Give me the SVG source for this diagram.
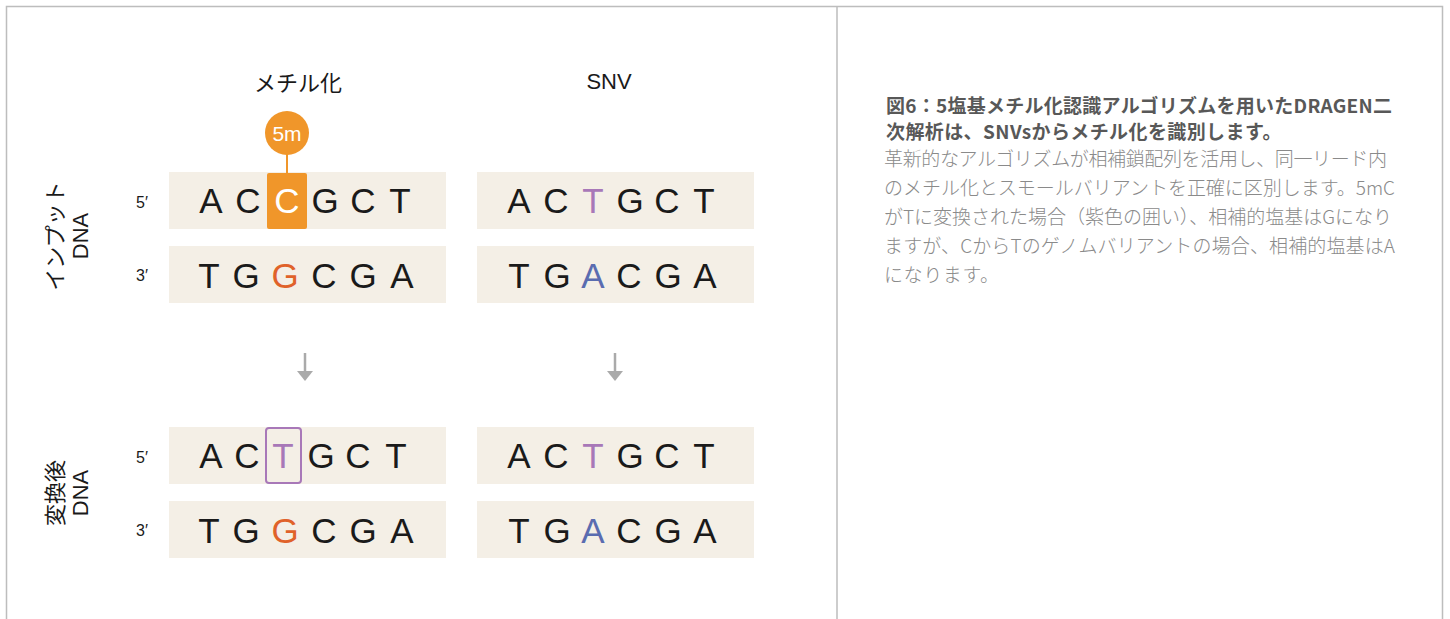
<svg xmlns="http://www.w3.org/2000/svg" width="1450" height="619" viewBox="0 0 1450 619">
<style>
.frame{fill:none;stroke:#bdbdbd;stroke-width:1.5}
.strand{fill:#f4efe6}
.b{font-family:"Liberation Sans",Arial,sans-serif;font-size:35px;fill:#1a1a1a;text-anchor:middle}
.end{font-family:"Liberation Sans",Arial,sans-serif;font-size:16px;fill:#1a1a1a;text-anchor:middle}
.hdr{font-family:"Liberation Sans","Noto Sans CJK JP",sans-serif;font-size:22px;fill:#1a1a1a;text-anchor:middle}
.side{font-family:"Liberation Sans","Noto Sans CJK JP",sans-serif;font-size:22px;fill:#1a1a1a;text-anchor:middle}
.og{fill:#e0622a}
.pu{fill:#a878b8}
.bl{fill:#5a6cb0}
.wh{fill:#ffffff}
.title{font-family:"Noto Sans CJK JP",sans-serif;font-size:19px;font-weight:600;fill:#585858}
.body{font-family:"Noto Sans CJK JP",sans-serif;font-size:19px;font-weight:300;fill:#8a8a8a}
.arr{stroke:#aaaaaa;stroke-width:2.5;fill:none}
</style>
<defs>
<marker id="ah" viewBox="0 0 10 16" refX="1" refY="8" markerWidth="10" markerHeight="16" markerUnits="userSpaceOnUse" orient="auto">
<path d="M0,0 L10,8 L0,16 Z" fill="#aaaaaa"/>
</marker>
</defs>
<g id="frame">
<path class="frame" d="M6.5,619 V6.5 H1442.5 V619"/>
<line class="frame" x1="837" y1="6.5" x2="837" y2="619"/>
</g>
<g id="headers">
<text class="hdr" x="298" y="91">メチル化</text>
<text class="hdr" x="609" y="89">SNV</text>
</g>
<g id="label-input">
<g transform="translate(66,236) rotate(-90)">
<text class="side" x="0" y="-3">インプット</text>
<text class="side" x="0" y="22">DNA</text>
</g>
</g>
<g id="label-converted">
<g transform="translate(66,493) rotate(-90)">
<text class="side" x="0" y="-3">変換後</text>
<text class="side" x="0" y="22">DNA</text>
</g>
</g>
<g id="ends">
<text class="end" x="142" y="208">5′</text>
<text class="end" x="142" y="281">3′</text>
<text class="end" x="142" y="463">5′</text>
<text class="end" x="142" y="536">3′</text>
</g>
<g id="meth-input-5">
<rect class="strand" x="169" y="172" width="277" height="57"/>
<rect x="267" y="173" width="40" height="56" rx="2" fill="#f0962a"/>
<line x1="287" y1="150" x2="287" y2="174" stroke="#f0962a" stroke-width="2"/>
<circle cx="287" cy="133" r="22" fill="#f0962a"/>
<text x="287" y="141" font-family="Liberation Sans,Arial,sans-serif" font-size="21" fill="#ffffff" text-anchor="middle">5m</text>
<text class="b" x="211" y="213">A</text>
<text class="b" x="248" y="213">C</text>
<text class="b wh" x="287" y="213">C</text>
<text class="b" x="325" y="213">G</text>
<text class="b" x="363" y="213">C</text>
<text class="b" x="400" y="213">T</text>
</g>
<g id="meth-input-3">
<rect class="strand" x="169" y="246" width="277" height="57"/>
<text class="b" x="209" y="288">T</text>
<text class="b" x="246" y="288">G</text>
<text class="b og" x="285" y="288">G</text>
<text class="b" x="324" y="288">C</text>
<text class="b" x="363" y="288">G</text>
<text class="b" x="402" y="288">A</text>
</g>
<g id="snv-input-5">
<rect class="strand" x="477" y="172" width="277" height="57"/>
<text class="b" x="519" y="213">A</text>
<text class="b" x="556" y="213">C</text>
<text class="b pu" x="593" y="213">T</text>
<text class="b" x="630" y="213">G</text>
<text class="b" x="667" y="213">C</text>
<text class="b" x="704" y="213">T</text>
</g>
<g id="snv-input-3">
<rect class="strand" x="477" y="246" width="277" height="57"/>
<text class="b" x="519" y="288">T</text>
<text class="b" x="557" y="288">G</text>
<text class="b bl" x="593" y="288">A</text>
<text class="b" x="629" y="288">C</text>
<text class="b" x="668" y="288">G</text>
<text class="b" x="705" y="288">A</text>
</g>
<g id="connectors">
<line class="arr" x1="305" y1="353" x2="305" y2="372" marker-end="url(#ah)"/>
<line class="arr" x1="615" y1="353" x2="615" y2="372" marker-end="url(#ah)"/>
</g>
<g id="meth-conv-5">
<rect class="strand" x="169" y="427" width="277" height="57"/>
<rect x="266" y="428" width="35" height="55" rx="3" fill="none" stroke="#a878b8" stroke-width="2"/>
<text class="b" x="211" y="468">A</text>
<text class="b" x="247" y="468">C</text>
<text class="b pu" x="283" y="468">T</text>
<text class="b" x="321" y="468">G</text>
<text class="b" x="358" y="468">C</text>
<text class="b" x="396" y="468">T</text>
</g>
<g id="meth-conv-3">
<rect class="strand" x="169" y="501" width="277" height="57"/>
<text class="b" x="209" y="543">T</text>
<text class="b" x="246" y="543">G</text>
<text class="b og" x="285" y="543">G</text>
<text class="b" x="324" y="543">C</text>
<text class="b" x="363" y="543">G</text>
<text class="b" x="402" y="543">A</text>
</g>
<g id="snv-conv-5">
<rect class="strand" x="477" y="427" width="277" height="57"/>
<text class="b" x="519" y="468">A</text>
<text class="b" x="556" y="468">C</text>
<text class="b pu" x="593" y="468">T</text>
<text class="b" x="630" y="468">G</text>
<text class="b" x="667" y="468">C</text>
<text class="b" x="704" y="468">T</text>
</g>
<g id="snv-conv-3">
<rect class="strand" x="477" y="501" width="277" height="57"/>
<text class="b" x="519" y="543">T</text>
<text class="b" x="557" y="543">G</text>
<text class="b bl" x="593" y="543">A</text>
<text class="b" x="629" y="543">C</text>
<text class="b" x="668" y="543">G</text>
<text class="b" x="705" y="543">A</text>
</g>
<g id="caption">
<text class="title" x="886" y="113" textLength="506" lengthAdjust="spacing">図6：5塩基メチル化認識アルゴリズムを用いたDRAGEN二</text>
<text class="title" x="886" y="139" letter-spacing="0.4">次解析は、SNVsからメチル化を識別します。</text>
<text class="body" x="884" y="166" textLength="503" lengthAdjust="spacing">革新的なアルゴリズムが相補鎖配列を活用し、同一リード内</text>
<text class="body" x="884" y="195" textLength="511" lengthAdjust="spacing">のメチル化とスモールバリアントを正確に区別します。5mC</text>
<text class="body" x="884" y="224" textLength="508" lengthAdjust="spacing">がTに変換された場合（紫色の囲い）、相補的塩基はGになり</text>
<text class="body" x="884" y="253" textLength="511" lengthAdjust="spacing">ますが、CからTのゲノムバリアントの場合、相補的塩基はA</text>
<text class="body" x="884" y="282" letter-spacing="0.6">になります。</text>
</g>
</svg>
